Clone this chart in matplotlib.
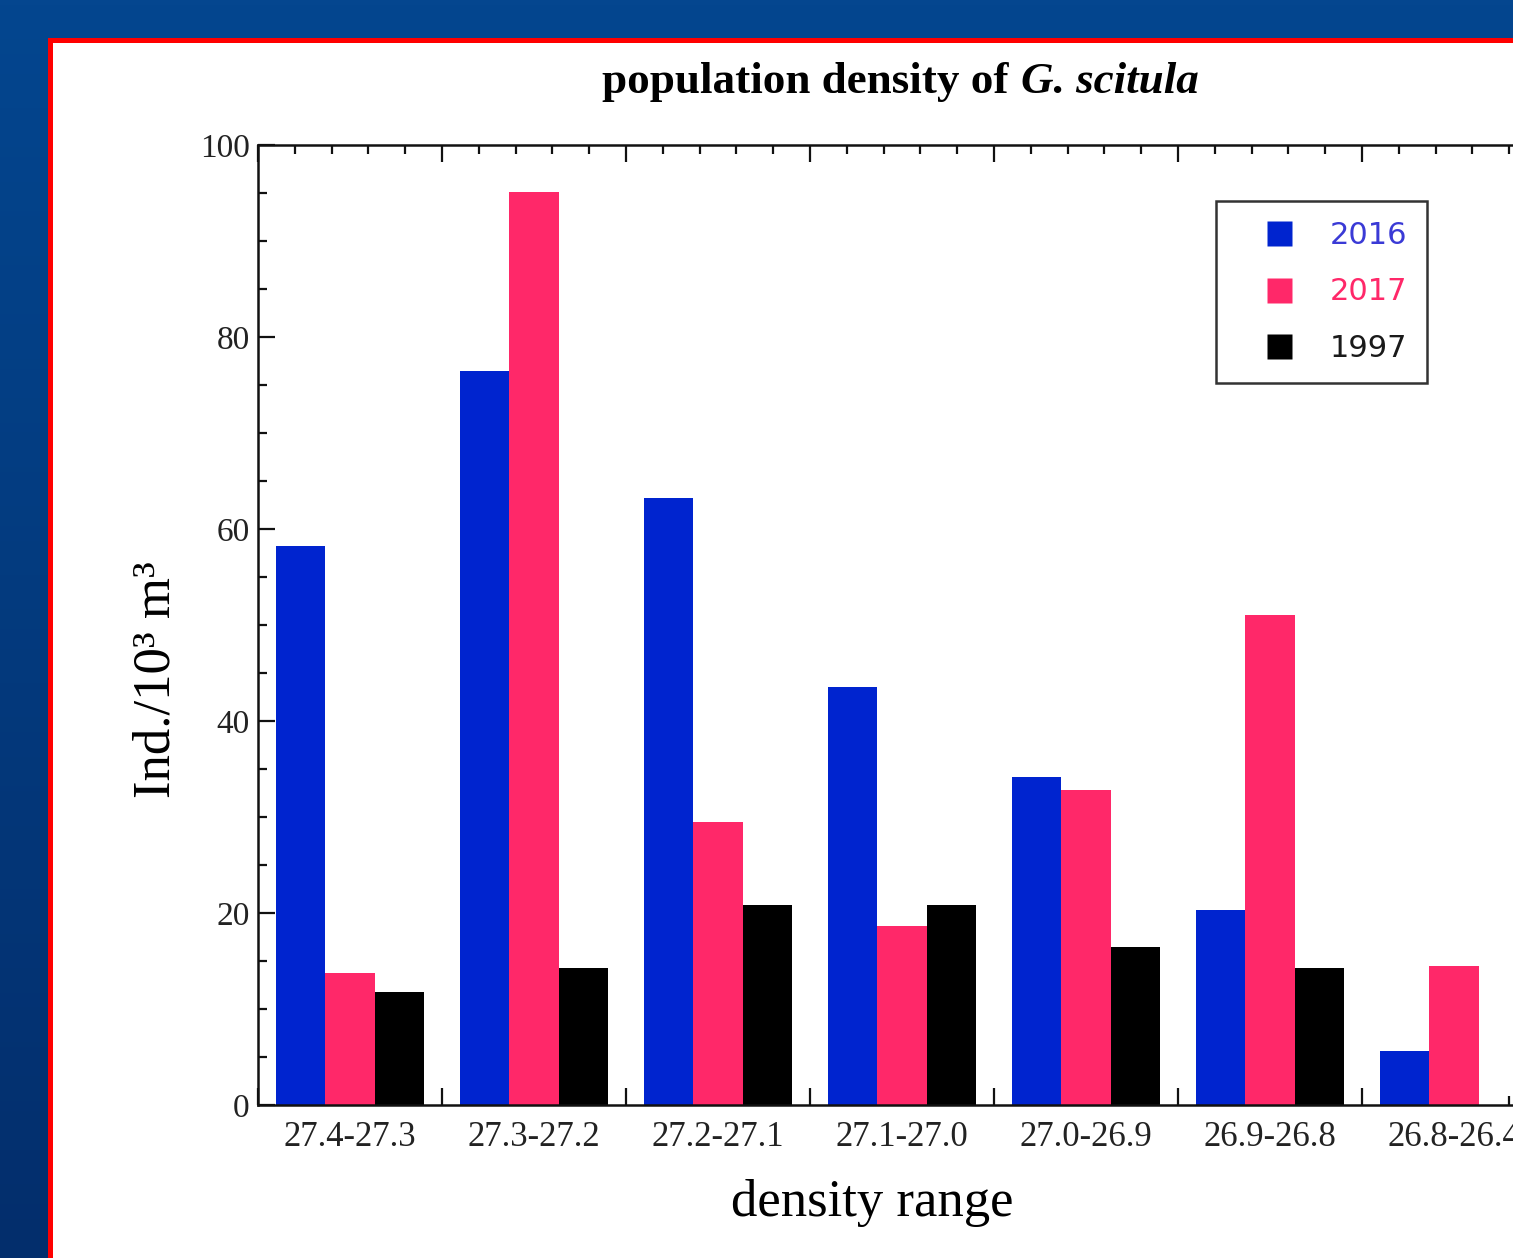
"""
Population density of G. scitula per density range (2016, 2017, 1997).
Writes out.png.
"""

import numpy as np
import matplotlib
matplotlib.use('Agg')
import matplotlib.pyplot as plt
from matplotlib.patches import Rectangle
from matplotlib.lines import Line2D
from matplotlib.ticker import MultipleLocator
import matplotlib.transforms as mtransforms

W, H, DPI = 1513, 1258, 100

CATEGORIES = ['27.4-27.3', '27.3-27.2', '27.2-27.1', '27.1-27.0',
              '27.0-26.9', '26.9-26.8', '26.8-26.4']
YEARS  = ['2016', '2017', '1997']
V2016  = [58.2, 76.5, 63.2, 43.5, 34.2, 20.3, 5.6]
V2017  = [13.7, 95.1, 29.5, 18.6, 32.8, 51.0, 14.5]
V1997  = [11.8, 14.3, 20.8, 20.8, 16.5, 14.3, 0.0]
COLORS = ['#0024cf', '#ff2869', '#000000']
TEXT_COLORS = ['#3a3ad6', '#ff2869', '#1a1a1a']

SERIF = 'Liberation Serif'

def px_x(x): return x / W
def px_y(y): return 1 - y / H

fig = plt.figure(figsize=(W / DPI, H / DPI), dpi=DPI)

# ── background: blue gradient + white panel with red border ──
bg = fig.add_axes([0, 0, 1, 1], zorder=0)
grad = np.linspace(0, 1, 256).reshape(-1, 1)
cmap = matplotlib.colors.LinearSegmentedColormap.from_list('bg', ['#04468f', '#032e6c'])
bg.imshow(grad, aspect='auto', cmap=cmap, extent=[0, 1, 0, 1], origin='upper')
bg.add_patch(Rectangle((px_x(50), -0.1), 1.2, px_y(39.5) + 0.1, facecolor='white',
                       edgecolor='#ff0000', linewidth=3.6, clip_on=False))
bg.set_xlim(0, 1); bg.set_ylim(0, 1)
bg.axis('off')

# ── main axes ──
x0, x1, ytop, ybot = 258, 1546, 145, 1105
ax = fig.add_axes([px_x(x0), px_y(ybot), (x1 - x0) / W, (ybot - ytop) / H], zorder=1)
ax.set_facecolor('none')

n = len(CATEGORIES)
idx = np.arange(n)
bw = 0.8 / 3
for j, (vals, c) in enumerate(zip([V2016, V2017, V1997], COLORS)):
    ax.bar(idx + 0.1 + j * bw, vals, width=bw, align='edge', color=c,
           edgecolor='none', zorder=2)

ax.set_xlim(0, n)
ax.set_ylim(0, 100)
ax.xaxis.set_major_locator(MultipleLocator(1))
ax.xaxis.set_minor_locator(MultipleLocator(0.2))
ax.yaxis.set_major_locator(MultipleLocator(20))
ax.yaxis.set_minor_locator(MultipleLocator(5))
ax.tick_params(which='both', direction='in', top=True, right=True, width=1.6, color='#111111')
ax.tick_params(which='major', length=12)
ax.tick_params(which='minor', length=6.5)
ax.tick_params(axis='x', labelbottom=False)
ax.tick_params(axis='y', labelsize=24, pad=6)
for lbl in ax.get_yticklabels():
    lbl.set_fontfamily(SERIF)
    lbl.set_color('#222222')
for sp in ax.spines.values():
    sp.set_linewidth(1.8)
    sp.set_color('#111111')

trans = mtransforms.blended_transform_factory(ax.transData, ax.transAxes)
for i, cat in enumerate(CATEGORIES):
    ax.text(i + 0.5, -0.034, cat, transform=trans, ha='center', va='center',
            fontsize=25, family=SERIF, color='#222222')

fig.text(px_x(872), px_y(1203), 'density range', ha='center', va='center',
         fontsize=38, family=SERIF)
fig.text(px_x(156), px_y(680), 'Ind./10\u00b3 m\u00b3', ha='center', va='center',
         rotation=90, fontsize=38, family=SERIF)

# title: plain bold part + bold italic species name
fig.text(px_x(1009), px_y(82), 'population density of', ha='right', va='center',
         fontsize=32.5, family=SERIF, weight='bold')
fig.text(px_x(1021), px_y(82), 'G. scitula', ha='left', va='center',
         fontsize=32.5, family=SERIF, weight='bold', style='italic')

# legend
handles = [Line2D([], [], linestyle='none', marker='s', markersize=18,
                  markerfacecolor=c, markeredgecolor='none') for c in COLORS]
leg = ax.legend(handles, YEARS, loc='upper left',
                bbox_to_anchor=((1216 - x0) / (x1 - x0), 1 - (201 - ytop) / (ybot - ytop)),
                prop={'family': 'DejaVu Sans', 'size': 22}, frameon=True, fancybox=False,
                edgecolor='black', handlelength=2.8, handleheight=0.7,
                handletextpad=0.26, labelspacing=0.9, borderpad=0.65, borderaxespad=0,
                labelcolor=TEXT_COLORS)
leg.get_frame().set_linewidth(1.8)

fig.savefig('out.png', dpi=DPI)
